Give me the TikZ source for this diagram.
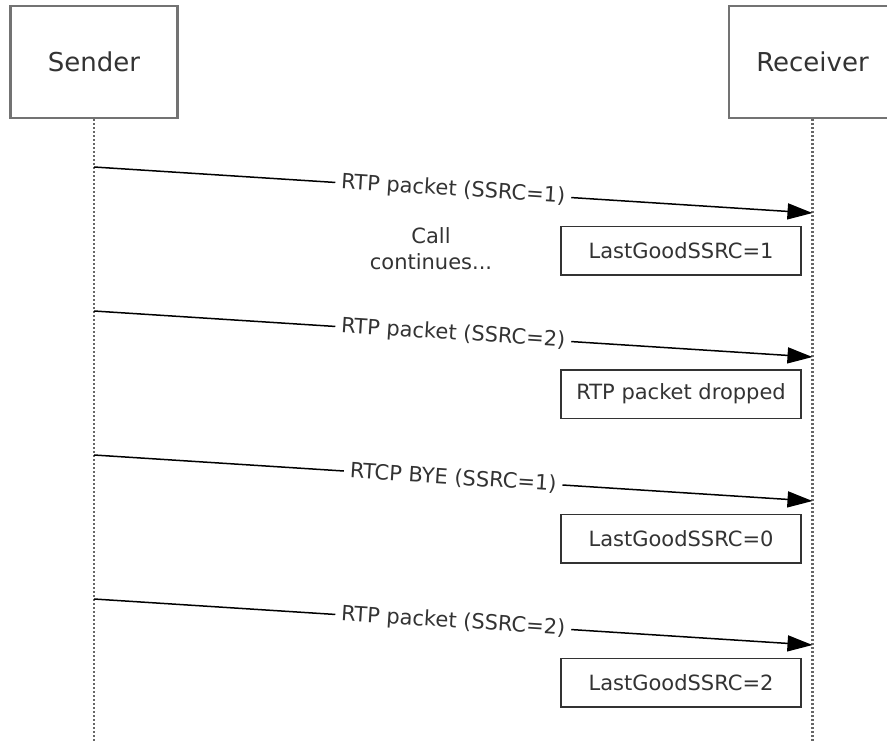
\documentclass[tikz,border=0pt]{standalone}
\usepackage{fontspec}
\setmainfont{DejaVu Sans}
\usetikzlibrary{arrows.meta}

\begin{document}
\begin{tikzpicture}[x=1pt, y=-1pt,
        actor/.style={draw=black!55, line width=2.5pt, minimum width=167pt, minimum height=112pt,
            text=black!80, font=\fontsize{26}{31}\selectfont},
        note/.style={draw=black!80, line width=1.5pt, minimum width=240pt, minimum height=48.5pt,
            text=black!80, font=\fontsize{21}{26}\selectfont},
        lifeline/.style={draw=black!60, line width=2.5pt, dash pattern=on 2.2pt off 1.8pt},
        msg/.style={line width=1.5pt, -{Triangle[length=25pt, width=16pt]}},
        msglabel/.style={sloped, fill=white, inner xsep=6pt, inner ysep=1pt,
            text=black!80, font=\fontsize{21}{26}\selectfont}]
        \clip (0,0) rectangle (887,740);

        % Actors and lifelines.
        \node[actor] (sender) at (94,62) {Sender};
        \node[actor] (receiver) at (812.5,62) {Receiver};
        \coordinate (sBottom) at (94,742);
        \coordinate (rBottom) at (812.5,742);
        \draw[lifeline] (sender.south) -- (sBottom);
        \draw[lifeline] (receiver.south) -- (rBottom);

        % Messages.
        \coordinate (s1) at (94,167);
        \coordinate (r1) at (812.5,213);
        \coordinate (s2) at (94,311);
        \coordinate (r2) at (812.5,357);
        \coordinate (s3) at (94,455);
        \coordinate (r3) at (812.5,501);
        \coordinate (s4) at (94,599);
        \coordinate (r4) at (812.5,645);

        \draw[msg] (s1) -- node[msglabel] (m1) {RTP packet (SSRC=1)} (r1);
        \draw[msg] (s2) -- node[msglabel] (m2) {RTP packet (SSRC=2)} (r2);
        \draw[msg] (s3) -- node[msglabel] (m3) {RTCP BYE (SSRC=1)} (r3);
        \draw[msg] (s4) -- node[msglabel] (m4) {RTP packet (SSRC=2)} (r4);

        % Receiver state.
        \node[note] (n1) at (681,250.5) {LastGoodSSRC=1};
        \node[note] (n2) at (681,394) {RTP packet dropped};
        \node[note] (n3) at (681,538.5) {LastGoodSSRC=0};
        \node[note] (n4) at (681,682.5) {LastGoodSSRC=2};

        \node[align=center, text=black!80, font=\fontsize{21}{26}\selectfont] (cont) at (431,249) {Call\\continues...};

    \end{tikzpicture}
\end{document}
